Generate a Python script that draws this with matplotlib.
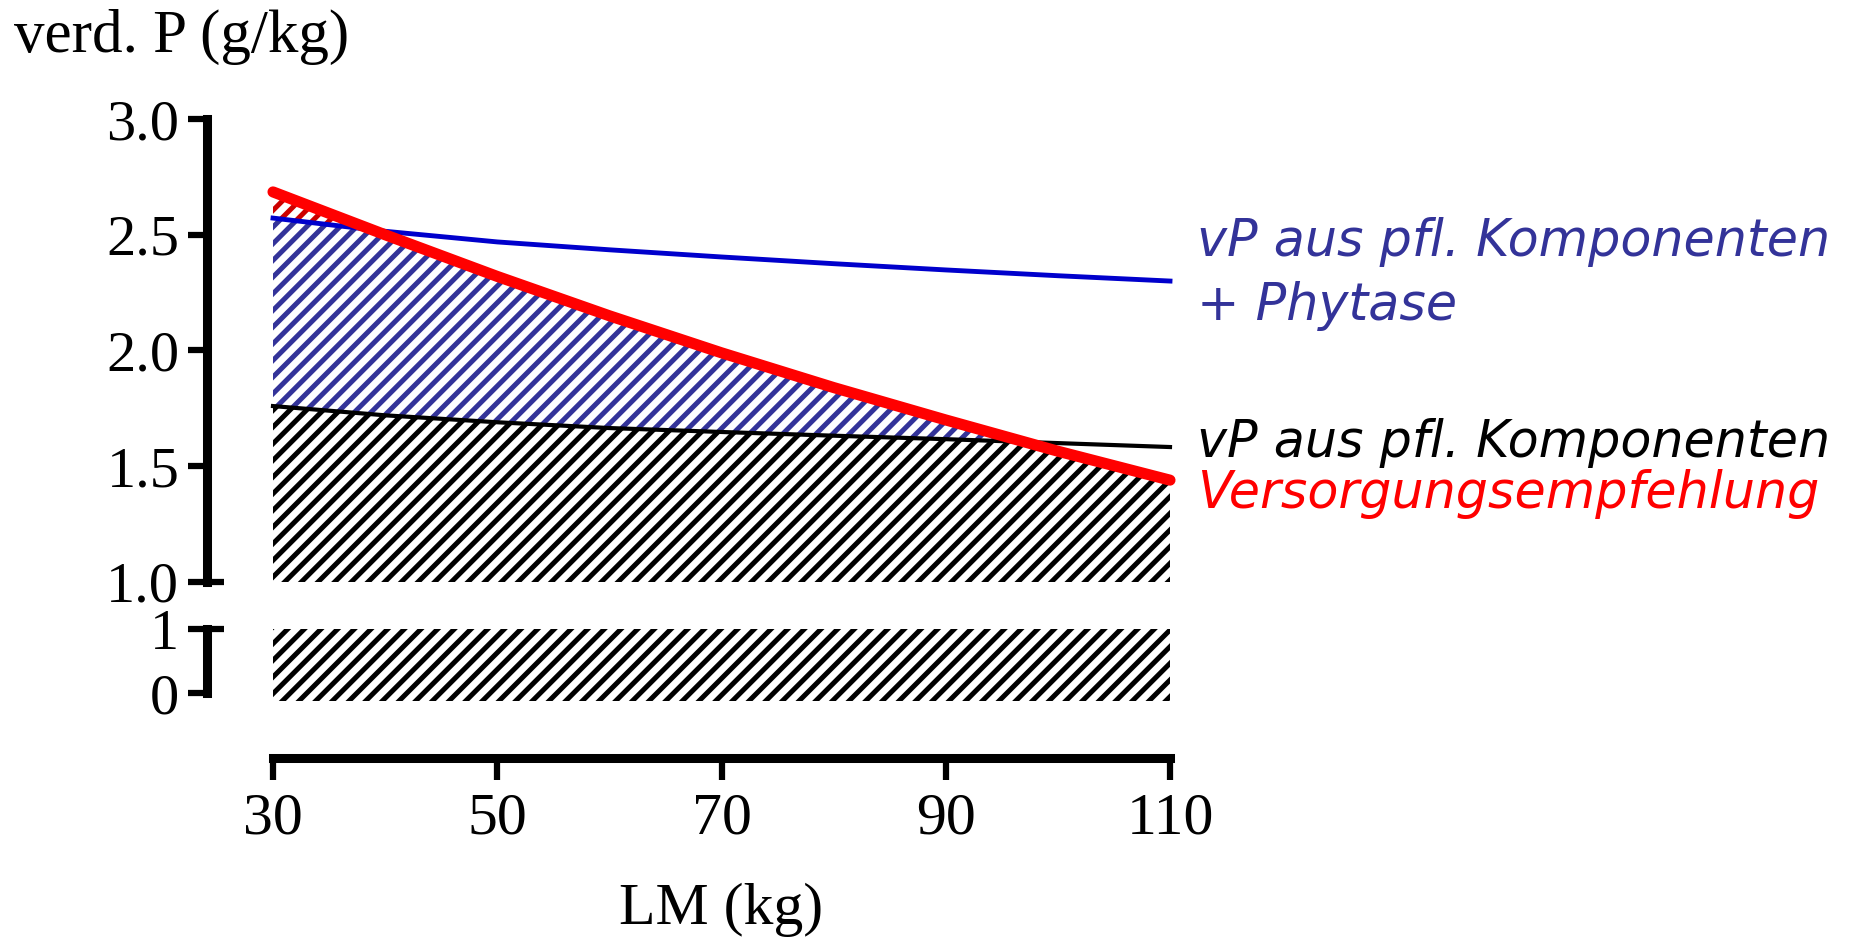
import numpy as np
import matplotlib
matplotlib.use("Agg")
import matplotlib.pyplot as plt
from matplotlib.markers import TICKRIGHT
from matplotlib.transforms import offset_copy

# verdaulicher P je kg Futter ueber Lebendmasse
lm = [30, 40, 50, 60, 70, 80, 90, 100, 110]
empfehlung = [2.685, 2.50, 2.32, 2.15, 1.99, 1.84, 1.70, 1.565, 1.44]
pfl_phytase = [2.572, 2.515, 2.469, 2.435, 2.404, 2.375, 2.348, 2.323, 2.30]
pfl = [1.76, 1.72, 1.69, 1.665, 1.648, 1.632, 1.617, 1.60, 1.583]
sockel = [-0.12, 1.0]   # Schraffur im unteren Achsenabschnitt

xticks = [30, 50, 70, 90, 110]
yticks_top = [1.0, 1.5, 2.0, 2.5, 3.0]
yticks_bot = [0, 1]

x = np.array(lm, dtype=float)
red = np.array(empfehlung)
blue = np.array(pfl_phytase)
black = np.array(pfl)

plt.rcParams["font.family"] = ["Liberation Serif", "DejaVu Serif"]
plt.rcParams["hatch.linewidth"] = 3.6
plt.rcParams["axes.linewidth"] = 6.5

W, H = 1862, 939
fig = plt.figure(figsize=(W / 100, H / 100), dpi=100)
ax = fig.add_axes([273 / W, 1 - 582 / H, 897 / W, 463 / H])
ax2 = fig.add_axes([273 / W, 1 - 693 / H, 897 / W, 64 / H])

RED_H = "#cc0000"
BLUE_H = "#333399"
BLUE_L = "#0000cc"
HATCH = "//"

# unterer Bereich komplett schraffiert
ax2.fill_between(x, sockel[0], sockel[1], facecolor="none", edgecolor="black",
                 hatch=HATCH, lw=0, clip_on=False)

# oberer Bereich
ax.fill_between(x, 1.0, black, facecolor="none", edgecolor="black", hatch=HATCH, lw=0)
ax.fill_between(x, black, red, where=red > black, interpolate=True,
                facecolor="none", edgecolor=BLUE_H, hatch=HATCH, lw=0)
ax.fill_between(x, blue, red, where=red > blue, interpolate=True,
                facecolor="white", edgecolor=RED_H, hatch=HATCH, lw=0)
ax.fill_between(x, red, black, where=black > red, interpolate=True,
                facecolor="white", edgecolor="none", lw=0)

ax.plot(x, black, color="black", lw=3, zorder=5, clip_on=False)
ax.plot(x, blue, color=BLUE_L, lw=3.5, zorder=5, clip_on=False)
ax.plot(x, red, color="#ff0000", lw=8, zorder=6, solid_capstyle="round", clip_on=False)

off = 47.5
for a, yt, lim in [(ax, yticks_top, (1.0, 3.0)), (ax2, yticks_bot, (0, 1))]:
    a.set_xlim(30, 110)
    a.set_ylim(*lim)
    a.set_yticks(yt)
    a.spines["top"].set_visible(False)
    a.spines["right"].set_visible(False)
    a.spines["left"].set_position(("outward", off))
    a.spines["left"].set_zorder(10)
    a.tick_params(axis="y", direction="out", length=14, width=4.5, pad=6, labelsize=42)
    a.patch.set_visible(False)

ax.set_yticklabels(["1.0", "1.5", "2.0", "2.5", "3.0"])
ax.spines["bottom"].set_visible(False)
ax.set_xticks([])

ax2.spines["bottom"].set_position(("outward", 46.8))
ax2.set_xticks(xticks)
ax2.tick_params(axis="x", direction="out", length=16, width=4.5, pad=9, labelsize=43)

# Achsenbruch: kurze Kappen nach rechts
for a, yv in [(ax, 1.0), (ax2, 1)]:
    tr = offset_copy(a.get_yaxis_transform(), fig=fig, x=-off, units="points")
    a.plot([0], [yv], marker=TICKRIGHT, ms=12, mew=4.5, color="black",
           transform=tr, clip_on=False)

fig.text(14 / W, 1 - 37 / H, "verd. P (g/kg)", fontsize=44, va="center", ha="left")
fig.text(721 / W, 1 - 910 / H, "LM (kg)", fontsize=43, va="center", ha="center")

lab = dict(fontsize=36.5, style="oblique", family=["DejaVu Sans"], ha="left", va="baseline")
fig.text(1197 / W, 1 - 256 / H, "vP aus pfl. Komponenten", color=BLUE_H, **lab)
fig.text(1197 / W, 1 - 320 / H, "+ Phytase", color=BLUE_H, **lab)
fig.text(1197 / W, 1 - 457 / H, "vP aus pfl. Komponenten", color="black", **lab)
fig.text(1197 / W, 1 - 508 / H, "Versorgungsempfehlung", color="#ff0000", **lab)

fig.savefig("out.png", dpi=100)
